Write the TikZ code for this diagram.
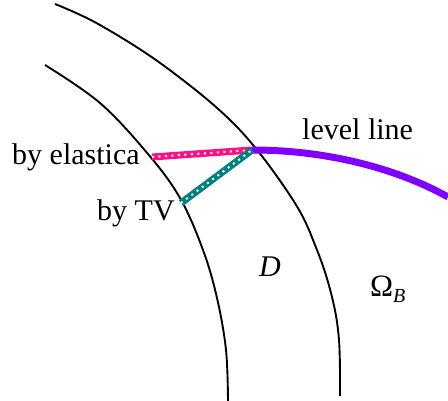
\documentclass[tikz,border=0pt]{standalone}
\usepackage{fontspec}
\setmainfont{Liberation Serif}
\definecolor{elcol}{RGB}{255,16,135}
\definecolor{tvcol}{RGB}{0,128,128}
\definecolor{lvcol}{RGB}{128,0,255}
\tikzset{
  boundary/.style={draw=black,line width=1.9pt},
  lbl/.style={font=\fontsize{30}{34}\selectfont,inner sep=0pt,anchor=base west},
  thickpath/.style={line width=7pt},
  dotsover/.style={draw=white,line width=2pt,dash pattern=on 2pt off 4.5pt},
}
\begin{document}
\begin{tikzpicture}[x=1pt,y=-1pt]
\useasboundingbox (0,0) rectangle (448,401);
% boundaries
\draw[boundary] plot[smooth,tension=0.6] coordinates {(45,65) (100,103) (148,154) (180,198) (203,250) (217,298) (226,350) (228,401)};
\draw[boundary] plot[smooth,tension=0.6] coordinates {(55,4) (100,25) (167,68) (238,128) (293,200) (317,250) (332,297) (339,340) (340,396)};
% key points
\coordinate (J) at (252,150);
\coordinate (E) at (152,157);
\coordinate (T) at (181,203);
\coordinate (Pend) at (448,197);
% level line
\draw[lvcol,thickpath] (J) .. controls (330,150) and (400,170) .. (Pend);
% elastica
\draw[elcol,thickpath] (E) -- (J);
\draw[dotsover] (E) -- (J);
% TV
\draw[tvcol,thickpath] (T) -- (J);
\draw[dotsover] (T) -- (J);
% labels
\node[lbl] (lel) at (12,165) {by elastica};
\node[lbl] (ltv) at (97,221) {by TV};
\node[lbl] (llv) at (302,140) {level line};
\node[lbl] (lD) at (259,277) {\itshape D};
\node[lbl,font=\fontsize{31}{34}\selectfont] (lO) at (370,297) {Ω\raisebox{-6pt}{\fontsize{20}{22}\selectfont\itshape B}};
\end{tikzpicture}
\end{document}
